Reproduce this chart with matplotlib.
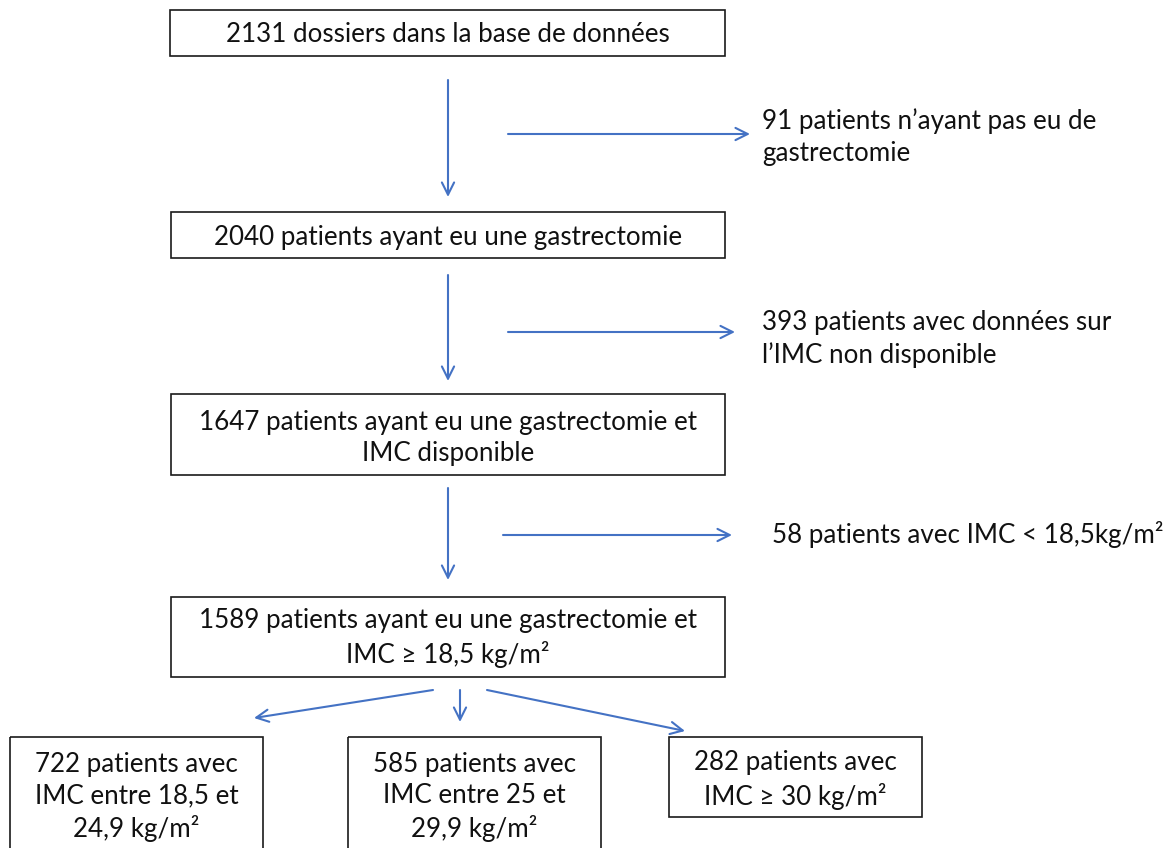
import matplotlib.pyplot as plt
from matplotlib.patches import Rectangle

plt.rcParams["font.family"] = ["Lato", "DejaVu Sans"]

# Flow chart content
main_labels = [
    "2131 dossiers dans la base de données",
    "2040 patients ayant eu une gastrectomie",
    "1647 patients ayant eu une gastrectomie et\nIMC disponible",
    "1589 patients ayant eu une gastrectomie et\nIMC ≥ 18,5 kg/m²",
]
excluded_labels = [
    "91 patients n’ayant pas eu de\ngastrectomie",
    "393 patients avec données sur\nl’IMC non disponible",
    "58 patients avec IMC < 18,5kg/m²",
]
group_labels = [
    "722 patients avec\nIMC entre 18,5 et\n24,9 kg/m²",
    "585 patients avec\nIMC entre 25 et\n29,9 kg/m²",
    "282 patients avec\nIMC ≥ 30 kg/m²",
]

# Layout in pixel coordinates: box (x0, y0, x1, y1), text centre y
main_boxes = [(170, 10, 725, 56), (171, 212, 725, 258),
              (171, 394, 725, 475), (171, 597, 725, 677)]
main_text_y = [35, 238, 438, 638]
group_boxes = [(10, 737, 263, 860), (348, 737, 601, 860), (669, 737, 922, 817)]
group_text_y = [797, 797, 780]
down_arrows = [(80, 197), (275, 381), (488, 580)]
side_arrows = [(508, 750, 134), (508, 735, 332), (503, 732, 535)]
side_text = [(762, 137), (762, 339), (772, 535)]
split_arrows = [((433, 690), (254, 718)), ((460, 690), (460, 722)),
                ((487, 690), (685, 731))]

BLUE = "#4472C4"
FS = 18.7
LS = 1.33

fig = plt.figure(figsize=(11.71, 8.48), dpi=100)
ax = fig.add_axes([0, 0, 1, 1])
ax.set_xlim(0, 1171)
ax.set_ylim(848, 0)
ax.axis("off")


def box(coords, text, cy):
    x0, y0, x1, y1 = coords
    ax.add_patch(Rectangle((x0, y0), x1 - x0, y1 - y0, fill=False,
                           edgecolor="#1a1a1a", linewidth=1.2))
    ax.text((x0 + x1) / 2, cy, text, ha="center", va="center",
            fontsize=FS, linespacing=LS, color="#111111")


def arrow(start, end):
    ax.annotate("", xy=end, xytext=start,
                arrowprops=dict(arrowstyle="->", color=BLUE, lw=1.5,
                                mutation_scale=22, shrinkA=0, shrinkB=0))


for coords, text, cy in zip(main_boxes, main_labels, main_text_y):
    box(coords, text, cy)
for coords, text, cy in zip(group_boxes, group_labels, group_text_y):
    box(coords, text, cy)

for y0, y1 in down_arrows:
    arrow((448, y0), (448, y1))
for (x0, x1, y), (tx, ty), text in zip(side_arrows, side_text, excluded_labels):
    arrow((x0, y), (x1, y))
    ax.text(tx, ty, text, ha="left", va="center", fontsize=FS,
            linespacing=LS, color="#111111")
for start, end in split_arrows:
    arrow(start, end)

fig.savefig("out.png", dpi=100)
